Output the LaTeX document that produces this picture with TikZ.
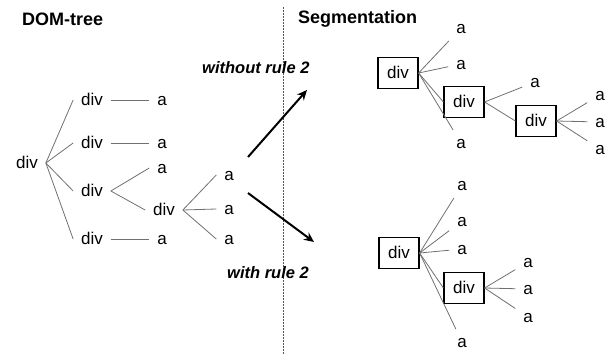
\documentclass[tikz,border=0pt]{standalone}
\usepackage{fontspec}
\setmainfont{Liberation Sans}
\usepackage{xcolor}
\usepackage{tikz}
\usetikzlibrary{arrows.meta,positioning}
\definecolor{edgegray}{HTML}{707070}
\definecolor{splitgray}{HTML}{555555}

\begin{document}
\begin{tikzpicture}[
    x=1pt, y=-1pt,
    lbl/.style={font=\fontsize{17}{20}\selectfont, inner sep=2pt, outer sep=6pt,
                text height=10pt, text depth=0pt},
    segbox/.style={draw, line width=1.2pt, font=\fontsize{17}{20}\selectfont,
                   minimum width=40pt, minimum height=31pt, inner sep=0pt,
                   text height=10pt, text depth=0pt},
    edge/.style={draw=edgegray, line width=0.8pt},
    title/.style={font=\fontsize{18}{20}\selectfont\bfseries, anchor=west, inner sep=0pt},
    rulelbl/.style={font=\fontsize{16.5}{20}\selectfont\bfseries\itshape, anchor=west, inner sep=0pt},
    arrow/.style={-{Stealth[length=10pt,width=9pt]}, line width=2pt}
]
    \useasboundingbox (0,0) rectangle (605,354);

    % headings and the dividing line
    \node[title] (domtitle) at (22,19) {DOM-tree};
    \node[title] (segtitle) at (298,19) {Segmentation};
    \coordinate (splittop) at (283,7);
    \coordinate (splitbot) at (283,354);
    \draw[splitgray, line width=0.7pt, dash pattern=on 1.5pt off 1.5pt] (splittop) -- (splitbot);

    % DOM tree
    \node[lbl] (root) at (27,163) {div};
    \node[lbl] (c1) at (92,100) {div};
    \node[lbl] (c2) at (92,143) {div};
    \node[lbl] (c3) at (92,191) {div};
    \node[lbl] (c4) at (92,239) {div};
    \node[lbl] (c1a) at (162,100) {a};
    \node[lbl] (c2a) at (162,143) {a};
    \node[lbl] (c3a) at (162,168) {a};
    \node[lbl] (sub) at (164,210) {div};
    \node[lbl] (c4a) at (162,239) {a};
    \node[lbl] (suba1) at (229,175) {a};
    \node[lbl] (suba2) at (229,209) {a};
    \node[lbl] (suba3) at (229,239) {a};

    \draw[edge] (root.east) -- (c1.west);
    \draw[edge] (root.east) -- (c2.west);
    \draw[edge] (root.east) -- (c3.west);
    \draw[edge] (root.east) -- (c4.west);
    \draw[edge] (c1.east) -- (c1a.west);
    \draw[edge] (c2.east) -- (c2a.west);
    \draw[edge] (c4.east) -- (c4a.west);
    \draw[edge] (c3.east) -- (c3a.west);
    \draw[edge] (c3.east) -- (sub.west);
    \draw[edge] (sub.east) -- (suba1.west);
    \draw[edge] (sub.east) -- (suba2.west);
    \draw[edge] (sub.east) -- (suba3.west);

    % the two ways of segmenting
    \coordinate (upfrom) at (248,157);
    \coordinate (upto) at (307,90);
    \coordinate (downfrom) at (248,193);
    \coordinate (downto) at (314,242);
    \draw[arrow] (upfrom) -- (upto);
    \draw[arrow] (downfrom) -- (downto);
    \node[rulelbl] (without) at (202,68) {without rule 2};
    \node[rulelbl] (with) at (227,273) {with rule 2};

    % segmentation without rule 2
    \node[segbox] (s1) at (398,73) {div};
    \node[segbox] (s2) at (464,102) {div};
    \node[segbox] (s3) at (536,121) {div};
    \node[lbl] (s1a1) at (461,28) {a};
    \node[lbl] (s1a2) at (461,64) {a};
    \node[lbl] (s1a3) at (461,143) {a};
    \node[lbl] (s2a) at (535,82) {a};
    \node[lbl] (s3a1) at (600,95) {a};
    \node[lbl] (s3a2) at (600,122) {a};
    \node[lbl] (s3a3) at (600,149) {a};

    \draw[edge] (s1.east) -- (s1a1);
    \draw[edge] (s1.east) -- (s1a2);
    \draw[edge] (s1.east) -- (s2.west);
    \draw[edge] (s1.east) -- (s1a3);
    \draw[edge] (s2.east) -- (s2a);
    \draw[edge] (s2.east) -- (s3.west);
    \draw[edge] (s3.east) -- (s3a1);
    \draw[edge] (s3.east) -- (s3a2);
    \draw[edge] (s3.east) -- (s3a3);

    % segmentation with rule 2
    \node[segbox] (t1) at (399,253) {div};
    \node[segbox] (t2) at (464,288) {div};
    \node[lbl] (t1a1) at (462,185) {a};
    \node[lbl] (t1a2) at (462,221) {a};
    \node[lbl] (t1a3) at (462,249) {a};
    \node[lbl] (t1a4) at (462,342) {a};
    \node[lbl] (t2a1) at (528,262) {a};
    \node[lbl] (t2a2) at (528,289) {a};
    \node[lbl] (t2a3) at (528,317) {a};

    \draw[edge] (t1.east) -- (t1a1);
    \draw[edge] (t1.east) -- (t1a2);
    \draw[edge] (t1.east) -- (t1a3);
    \draw[edge] (t1.east) -- (t2.west);
    \draw[edge] (t1.east) -- (t1a4);
    \draw[edge] (t2.east) -- (t2a1);
    \draw[edge] (t2.east) -- (t2a2);
    \draw[edge] (t2.east) -- (t2a3);
\end{tikzpicture}
\end{document}
